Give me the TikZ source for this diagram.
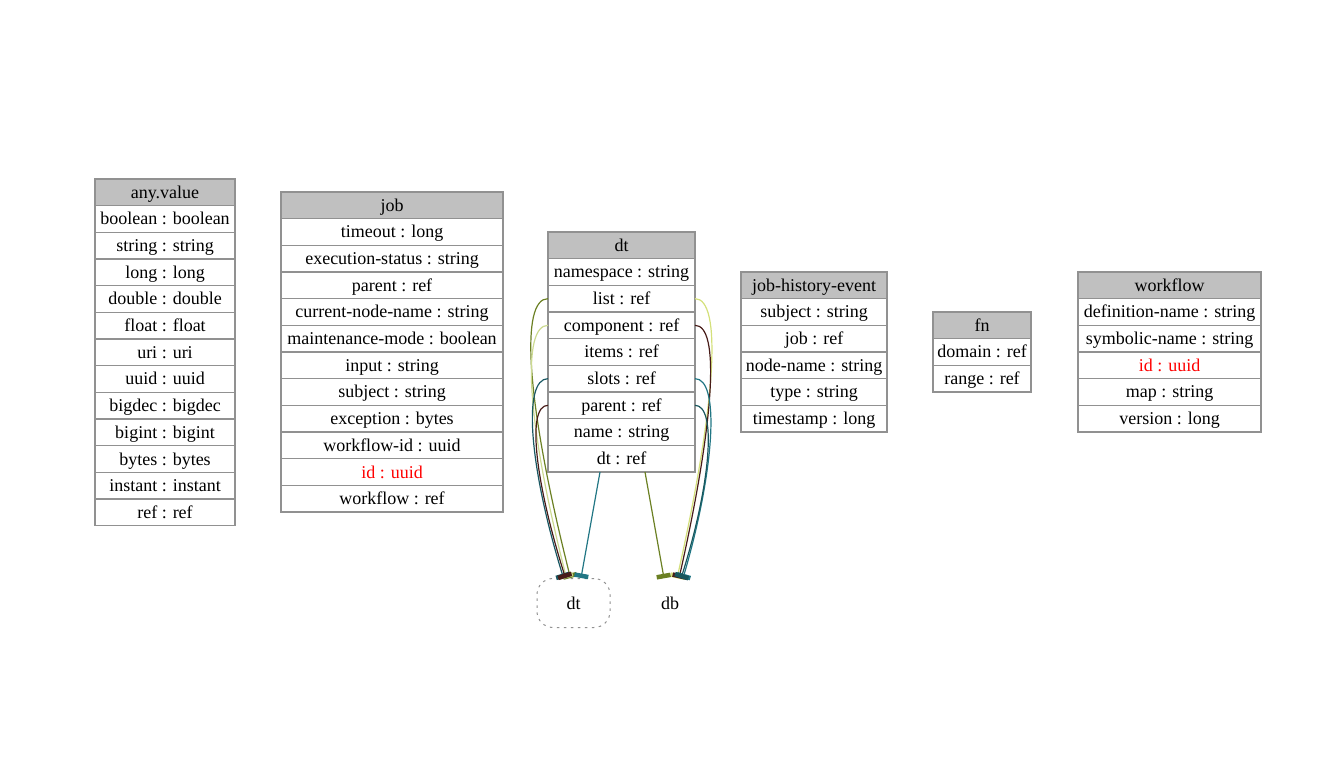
\documentclass[tikz,border=0pt]{standalone}
\usepackage{fontspec}
\setmainfont{Liberation Serif}
\usetikzlibrary{positioning,arrows.meta}

\definecolor{headgray}{RGB}{192,192,192}
\definecolor{gridgray}{RGB}{145,145,145}
\definecolor{lnolive}{RGB}{107,128,35}
\definecolor{lnlight}{RGB}{204,218,145}
\definecolor{lnteal}{RGB}{33,118,132}
\definecolor{lnbrown}{RGB}{72,28,24}
\definecolor{lndteal}{RGB}{24,86,92}

\tikzset{
  field/.style={draw=gridgray, line width=1.1pt, rectangle, minimum height=26.67pt,
    inner sep=0pt, outer sep=0pt, text height=16.5pt, text depth=4.5pt,
    font=\rmfamily\fontsize{18}{22}\selectfont},
  head/.style={field, fill=headgray},
  idkey/.style={text=red},
  link/.style={line width=1.2pt, -{Rectangle[length=4.5pt,width=14pt]}},
  refnode/.style={minimum width=73pt, minimum height=49pt, inner sep=0pt,
    font=\rmfamily\fontsize{18}{22}\selectfont}
}

\begin{document}
\begin{tikzpicture}[x=1pt, y=-1pt, node distance=0pt]
  \useasboundingbox (0,0) rectangle (1338,759);

  % any.value
  \begin{scope}[every node/.append style={minimum width=140pt}]
  \node (anyvalue) [head] at (165,192.3) {any.value};
  \node (anyvalue-boolean) [field, below=of anyvalue] {boolean : boolean};
  \node (anyvalue-string) [field, below=of anyvalue-boolean] {string : string};
  \node (anyvalue-long) [field, below=of anyvalue-string] {long : long};
  \node (anyvalue-double) [field, below=of anyvalue-long] {double : double};
  \node (anyvalue-float) [field, below=of anyvalue-double] {float : float};
  \node (anyvalue-uri) [field, below=of anyvalue-float] {uri : uri};
  \node (anyvalue-uuid) [field, below=of anyvalue-uri] {uuid : uuid};
  \node (anyvalue-bigdec) [field, below=of anyvalue-uuid] {bigdec : bigdec};
  \node (anyvalue-bigint) [field, below=of anyvalue-bigdec] {bigint : bigint};
  \node (anyvalue-bytes) [field, below=of anyvalue-bigint] {bytes : bytes};
  \node (anyvalue-instant) [field, below=of anyvalue-bytes] {instant : instant};
  \node (anyvalue-ref) [field, below=of anyvalue-instant] {ref : ref};
  \end{scope}

  % job
  \begin{scope}[every node/.append style={minimum width=222pt}]
  \node (job) [head] at (392,205.3) {job};
  \node (job-timeout) [field, below=of job] {timeout : long};
  \node (job-status) [field, below=of job-timeout] {execution-status : string};
  \node (job-parent) [field, below=of job-status] {parent : ref};
  \node (job-nodename) [field, below=of job-parent] {current-node-name : string};
  \node (job-maint) [field, below=of job-nodename] {maintenance-mode : boolean};
  \node (job-input) [field, below=of job-maint] {input : string};
  \node (job-subject) [field, below=of job-input] {subject : string};
  \node (job-exception) [field, below=of job-subject] {exception : bytes};
  \node (job-wfid) [field, below=of job-exception] {workflow-id : uuid};
  \node (job-id) [field, idkey, below=of job-wfid] {id : uuid};
  \node (job-workflow) [field, below=of job-id] {workflow : ref};
  \end{scope}

  % dt
  \begin{scope}[every node/.append style={minimum width=147pt}]
  \node (dt) [head] at (621.5,245.3) {dt};
  \node (dt-namespace) [field, below=of dt] {namespace : string};
  \node (dt-list) [field, below=of dt-namespace] {list : ref};
  \node (dt-component) [field, below=of dt-list] {component : ref};
  \node (dt-items) [field, below=of dt-component] {items : ref};
  \node (dt-slots) [field, below=of dt-items] {slots : ref};
  \node (dt-parent) [field, below=of dt-slots] {parent : ref};
  \node (dt-name) [field, below=of dt-parent] {name : string};
  \node (dt-dt) [field, below=of dt-name] {dt : ref};
  \end{scope}

  % job-history-event
  \begin{scope}[every node/.append style={minimum width=146pt}]
  \node (jhe) [head] at (814,285.3) {job-history-event};
  \node (jhe-subject) [field, below=of jhe] {subject : string};
  \node (jhe-job) [field, below=of jhe-subject] {job : ref};
  \node (jhe-nodename) [field, below=of jhe-job] {node-name : string};
  \node (jhe-type) [field, below=of jhe-nodename] {type : string};
  \node (jhe-timestamp) [field, below=of jhe-type] {timestamp : long};
  \end{scope}

  % fn
  \begin{scope}[every node/.append style={minimum width=98pt}]
  \node (fn) [head] at (982,325.3) {fn};
  \node (fn-domain) [field, below=of fn] {domain : ref};
  \node (fn-range) [field, below=of fn-domain] {range : ref};
  \end{scope}

  % workflow
  \begin{scope}[every node/.append style={minimum width=183pt}]
  \node (workflow) [head] at (1169.5,285.3) {workflow};
  \node (workflow-defname) [field, below=of workflow] {definition-name : string};
  \node (workflow-symname) [field, below=of workflow-defname] {symbolic-name : string};
  \node (workflow-id) [field, idkey, below=of workflow-symname] {id : uuid};
  \node (workflow-map) [field, below=of workflow-id] {map : string};
  \node (workflow-version) [field, below=of workflow-map] {version : long};
  \end{scope}

  % ref targets
  \node (dtref) [refnode, draw=gridgray, line width=1pt, dash pattern=on 2.5pt off 4.5pt,
    rounded corners=16pt] at (573.5,603) {dt};
  \node (dbref) [refnode] at (670,603) {db};

  % links to dt
  \draw[link, lnolive] (dt-list.west) .. controls +(-28,0) and +(-45,-178) .. ([xshift=-3pt]dtref.north);
  \draw[link, lnlight] (dt-component.west) .. controls +(-26,0) and +(-41,-160) .. ([xshift=-7pt]dtref.north);
  \draw[link, lnteal!75!black] (dt-slots.west) .. controls +(-26,0) and +(-34,-110) .. ([xshift=-10pt]dtref.north);
  \draw[link, lnbrown] (dt-parent.west) .. controls +(-22,0) and +(-30,-95) .. ([xshift=-8pt]dtref.north);
  \draw[link, lnteal] ([xshift=-21.5pt]dt-dt.south) -- ([xshift=7.5pt]dtref.north);

  % links to db
  \draw[link, lnlight!85!yellow] (dt-list.east) .. controls +(27,0) and +(40,-178) .. ([xshift=7pt]dbref.north);
  \draw[link, lnbrown] (dt-component.east) .. controls +(25,0) and +(36,-160) .. ([xshift=9pt]dbref.north);
  \draw[link, lnteal] (dt-slots.east) .. controls +(25,0) and +(32,-110) .. ([xshift=13pt]dbref.north);
  \draw[link, lndteal] (dt-parent.east) .. controls +(22,0) and +(30,-95) .. ([xshift=11pt]dbref.north);
  \draw[link, lnolive] ([xshift=23.5pt]dt-dt.south) -- ([xshift=-6pt]dbref.north);
\end{tikzpicture}
\end{document}
